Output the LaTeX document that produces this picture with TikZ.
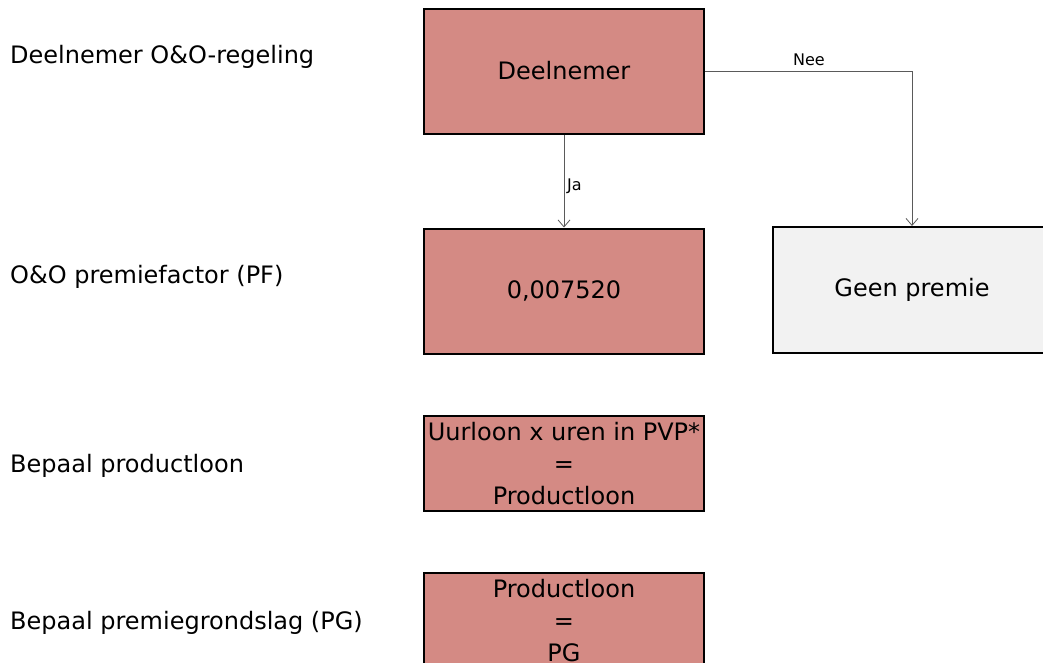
\documentclass[tikz,border=0pt]{standalone}
\usepackage{fontspec}
\setmainfont{DejaVu Sans}
\usetikzlibrary{arrows.meta}
\definecolor{boxred}{RGB}{212,138,132}
\definecolor{boxgray}{RGB}{242,242,242}
\definecolor{linegray}{RGB}{90,90,90}
\begin{document}
\begin{tikzpicture}[x=1pt,y=-1pt,
  lbl/.style={anchor=west,inner sep=0pt,font=\fontsize{24}{28}\selectfont},
  flowbox/.style={draw=black,line width=2pt,fill=boxred,minimum width=280pt,inner sep=0pt,align=center,font=\fontsize{24}{32}\selectfont},
  conn/.style={draw=linegray,line width=0.9pt,-{Straight Barb[length=7pt,width=12pt,line width=0.8pt]}},
  small/.style={inner sep=0pt,font=\fontsize{16}{18}\selectfont}]
\useasboundingbox (0,0) rectangle (1043,662);
\clip (0,0) rectangle (1043,662);
\node[lbl] (l1) at (10,57) {Deelnemer O\&O-regeling};
\node[lbl] (l2) at (10,277) {O\&O premiefactor (PF)};
\node[lbl] (l3) at (10,466) {Bepaal productloon};
\node[lbl] (l4) at (10,623) {Bepaal premiegrondslag (PG)};
\node[flowbox,minimum height=125pt] (d) at (564,71) {Deelnemer};
\node[flowbox,minimum height=125pt] (pf) at (564,291) {0,007520};
\node[flowbox,minimum height=126pt,fill=boxgray,minimum width=278pt] (g) at (912,290) {Geen premie};
\node[flowbox,minimum height=95pt] (p) at (564,463.5) {Uurloon x uren in PVP*\\=\\Productloon};
\node[flowbox,minimum height=95pt] (pg) at (564,620.5) {Productloon\\=\\PG};
\draw[conn] (d.south) -- (pf.north);
\draw[conn] (d.east |- 0,71) -| (g.north);
\node[small,anchor=west] (ja) at (567,186) {Ja};
\node[small] (nee) at (809,60) {Nee};
\end{tikzpicture}
\end{document}
